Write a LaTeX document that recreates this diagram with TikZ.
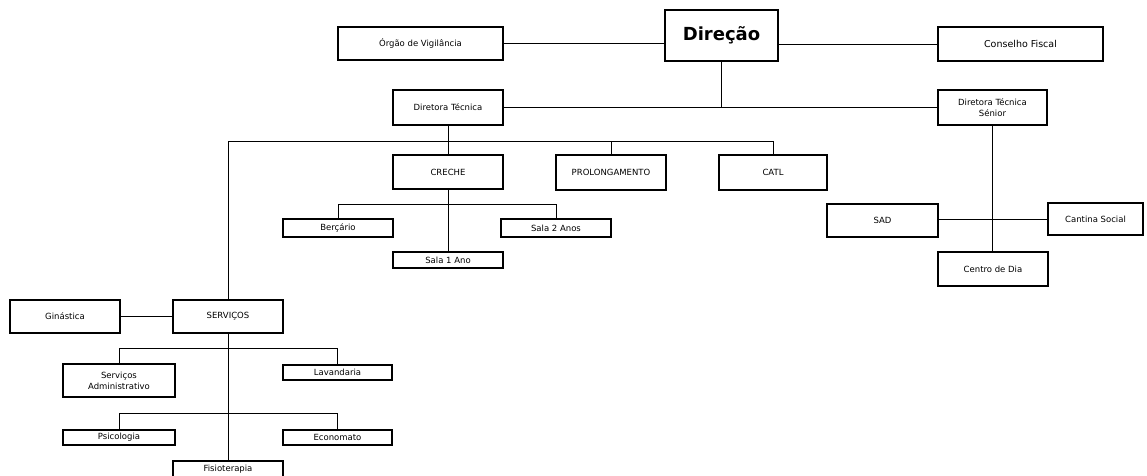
\documentclass[tikz,border=0pt]{standalone}
\usepackage{fontspec}
\setmainfont{DejaVu Sans}
\begin{document}
\begin{tikzpicture}[x=1pt,y=-1pt,
  orgbox/.style={draw, line width=1.3pt, inner sep=1pt, align=center, font=\fontsize{8.5}{11}\selectfont},
  conn/.style={line width=1pt}]
\newcommand\orgnode[7][]{\node[orgbox, minimum width={#5-#3}, minimum height={#6-#4}, #1] (#2) at ({(#3+#5)/2},{(#4+#6)/2}) {#7};}
\clip (0,0) rectangle (1147,475);
\fill[white] (0,0) rectangle (1147,475);
% top level
\orgnode{orgao}{338}{27}{503}{60}{Órgão de Vigilância}
\orgnode[font=\fontsize{18}{20}\selectfont\bfseries, line width=1.5pt]{direcao}{665}{10}{778}{61}{Direção}
\orgnode[font=\fontsize{9.5}{11}\selectfont]{conselho}{938}{27}{1103}{61}{Conselho Fiscal}
\orgnode{dirtec}{393}{90}{503}{125}{Diretora Técnica}
\orgnode{dirsen}{938}{90}{1047}{125}{Diretora Técnica\\Sénior}
% creche branch
\orgnode{creche}{393}{155}{503}{189}{CRECHE}
\orgnode{prolong}{556}{155}{666}{190}{PROLONGAMENTO}
\orgnode{catl}{719}{155}{827}{190}{CATL}
\orgnode{bercario}{283}{219}{393}{237}{Berçário}
\orgnode{sala2}{501}{219}{611}{237}{Sala 2 Anos}
\orgnode{sala1}{393}{252}{503}{268}{Sala 1 Ano}
% senior branch
\orgnode{sad}{827}{204}{938}{237}{SAD}
\orgnode{cantina}{1048}{203}{1143}{235}{Cantina Social}
\orgnode{centro}{938}{252}{1048}{286}{Centro de Dia}
% services
\orgnode{ginastica}{10}{300}{120}{333}{Ginástica}
\orgnode{servicos}{173}{300}{283}{333}{SERVIÇOS}
\orgnode{servadm}{63}{364}{175}{397}{Serviços\\Administrativo}
\orgnode{lavandaria}{283}{365}{392}{380}{Lavandaria}
\orgnode{psicologia}{63}{430}{175}{445}{Psicologia}
\orgnode{economato}{283}{430}{392}{445}{Economato}
\orgnode{fisio}{173}{461}{283}{477}{Fisioterapia}
% bus coordinates
\coordinate (busA) at (0,141);
\coordinate (busB) at (0,204);
\coordinate (busC) at (0,348);
\coordinate (busD) at (0,413);
% connectors
\draw[conn] (orgao.east) -- (orgao.east -| direcao.west);
\draw[conn] (conselho.west -| direcao.east) -- (conselho.west);
\draw[conn] (direcao.south) -- (direcao.south |- dirtec.east);
\draw[conn] (dirtec.east) -- (dirsen.west);
\draw[conn] (dirtec.south) -- (dirtec.south |- busA);
\draw[conn] (servicos.north) -- (servicos.north |- busA) -- (catl.north |- busA) -- (catl.north);
\draw[conn] (creche.north |- busA) -- (creche.north);
\draw[conn] (prolong.north |- busA) -- (prolong.north);
\draw[conn] (creche.south) -- (sala1.north);
\draw[conn] (bercario.north) -- (bercario.north |- busB) -- (sala2.north |- busB) -- (sala2.north);
\draw[conn] (dirsen.south) -- (dirsen.south |- centro.north);
\draw[conn] (sad.east |- cantina.west) -- (cantina.west);
\draw[conn] (ginastica.east) -- (servicos.west);
\draw[conn] (servicos.south) -- (servicos.south |- fisio.north);
\draw[conn] (servadm.north) -- (servadm.north |- busC) -- (lavandaria.north |- busC) -- (lavandaria.north);
\draw[conn] (psicologia.north) -- (psicologia.north |- busD) -- (economato.north |- busD) -- (economato.north);
\end{tikzpicture}
\end{document}
